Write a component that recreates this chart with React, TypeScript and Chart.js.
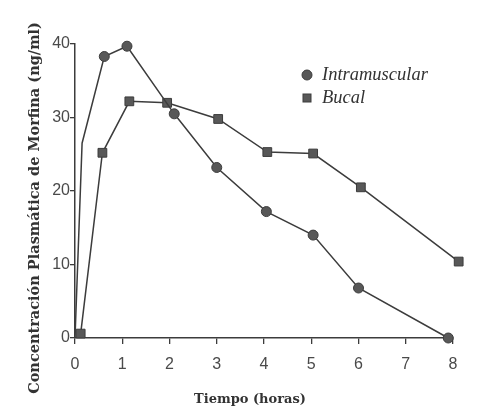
import { useEffect, useRef } from 'react';
import { Chart, registerables } from 'chart.js';

Chart.register(...registerables);

const xTickValues = [0, 1, 2, 3, 4, 5, 6, 7, 8];
const yTickValues = [0, 10, 20, 30, 40];

const seriesNames = ['Intramuscular', 'Bucal'];

const imTime = [0, 0.15, 0.62, 1.1, 2.1, 3.0, 4.05, 5.04, 6.0, 7.9];
const imConc = [0, 26.5, 38.3, 39.7, 30.5, 23.2, 17.2, 14.0, 6.8, 0];
const imRadius = [0, 0, 5, 5, 5, 5, 5, 5, 5, 5];

const buTime = [0.12, 0.58, 1.15, 1.95, 3.03, 4.07, 5.04, 6.05, 8.12];
const buConc = [0.6, 25.2, 32.2, 32.0, 29.8, 25.3, 25.1, 20.5, 10.4];

const xTitle = 'Tiempo (horas)';
const yTitle = 'Concentración Plasmática de Morfina (ng/ml)';

const LINE = '#3c3c3c';
const MARK = '#585858';
const TEXT = '#333333';

const overlayPlugin = {
  id: 'overlayText',
  afterDraw(chart: any) {
    const ctx = chart.ctx as CanvasRenderingContext2D;
    ctx.save();
    ctx.fillStyle = TEXT;
    ctx.textAlign = 'center';
    ctx.textBaseline = 'middle';
    ctx.font = 'bold 13px "DejaVu Serif"';
    ctx.fillText(xTitle, 250, 400);
    ctx.save();
    ctx.translate(35, 208);
    ctx.rotate(-Math.PI / 2);
    ctx.font = 'bold 14.5px "DejaVu Serif"';
    ctx.fillText(yTitle, 0, 0);
    ctx.restore();

    // legend
    ctx.fillStyle = MARK;
    ctx.strokeStyle = LINE;
    ctx.lineWidth = 1;
    ctx.beginPath();
    ctx.arc(307, 75, 5, 0, Math.PI * 2);
    ctx.fill();
    ctx.stroke();
    ctx.fillRect(303, 94, 8, 8);
    ctx.strokeRect(303, 94, 8, 8);
    ctx.fillStyle = TEXT;
    ctx.textAlign = 'left';
    ctx.font = 'italic 18.5px "Liberation Serif"';
    ctx.fillText(seriesNames[0], 322, 75);
    ctx.fillText(seriesNames[1], 322, 98);
    ctx.restore();
  },
};

export default function App() {
  const ref = useRef<HTMLCanvasElement | null>(null);

  useEffect(() => {
    document.body.style.margin = '0';
    document.body.style.background = '#ffffff';
    const canvas = ref.current;
    if (!canvas) return;
    const chart = new Chart(canvas, {
      type: 'line',
      data: {
        datasets: [
          {
            label: seriesNames[0],
            data: imTime.map((t, i) => ({ x: t, y: imConc[i] })),
            borderColor: LINE,
            borderWidth: 1.5,
            backgroundColor: MARK,
            pointBackgroundColor: MARK,
            pointBorderColor: LINE,
            pointBorderWidth: 1,
            pointStyle: 'circle',
            pointRadius: imRadius,
            tension: 0,
            clip: false as any,
          },
          {
            label: seriesNames[1],
            data: buTime.map((t, i) => ({ x: t, y: buConc[i] })),
            borderColor: LINE,
            borderWidth: 1.5,
            backgroundColor: MARK,
            pointBackgroundColor: MARK,
            pointBorderColor: LINE,
            pointBorderWidth: 1,
            pointStyle: 'rect',
            pointRadius: 6.2,
            tension: 0,
            clip: false as any,
          },
        ],
      },
      options: {
        animation: false,
        responsive: false,
        maintainAspectRatio: false,
        layout: { padding: { top: 44, right: 38, left: 0, bottom: 0 } },
        plugins: {
          legend: { display: false },
          tooltip: { enabled: false },
        },
        scales: {
          x: {
            type: 'linear',
            min: 0,
            max: 8,
            afterFit: (s: any) => {
              s.height = 77;
            },
            afterBuildTicks: (s: any) => {
              s.ticks = xTickValues.map((v) => ({ value: v }));
            },
            grid: {
              display: true,
              drawOnChartArea: false,
              drawTicks: true,
              tickLength: 6,
              color: LINE,
              lineWidth: 1.3,
            },
            border: { display: true, color: LINE, width: 1.5 },
            ticks: {
              padding: 11,
              color: '#4a4a4a',
              font: { family: '"Liberation Sans"', size: 16 },
            },
          },
          y: {
            type: 'linear',
            min: 0,
            max: 40,
            afterFit: (s: any) => {
              s.width = 75;
            },
            afterBuildTicks: (s: any) => {
              s.ticks = yTickValues.map((v) => ({ value: v }));
            },
            grid: {
              display: true,
              drawOnChartArea: false,
              drawTicks: true,
              tickLength: 5,
              color: LINE,
              lineWidth: 1.3,
            },
            border: { display: true, color: LINE, width: 1.5 },
            ticks: {
              padding: 0,
              color: '#4a4a4a',
              font: { family: '"Liberation Sans"', size: 16 },
            },
          },
        },
      },
      plugins: [overlayPlugin],
    });
    return () => chart.destroy();
  }, []);

  return (
    <div style={{ width: 491, height: 415 }}>
      <canvas ref={ref} width={491} height={415} style={{ display: 'block' }} />
    </div>
  );
}
